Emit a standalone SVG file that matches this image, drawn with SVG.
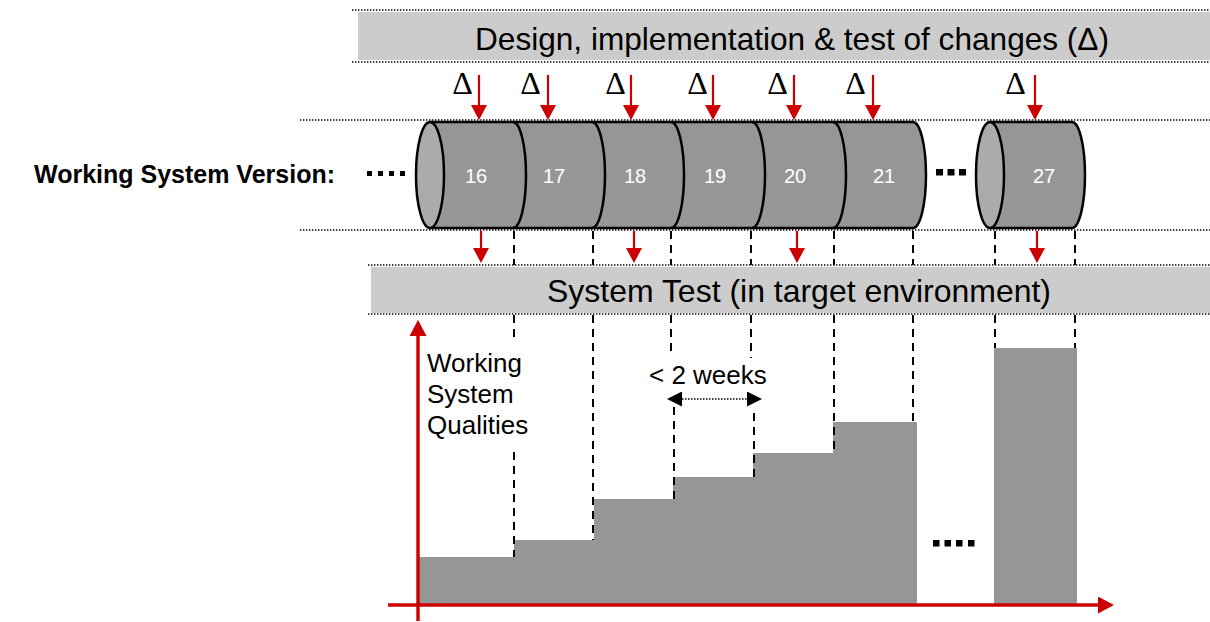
<svg xmlns="http://www.w3.org/2000/svg" width="1210" height="622" viewBox="0 0 1210 622">
  <style>
    .dots { stroke: #000; stroke-width: 1.4; stroke-dasharray: 1.4 1.6; fill: none; }
    .band { fill: #cccccc; }
    .band-text { font-family: "Liberation Sans", Arial, sans-serif; font-size: 32px; fill: #000; }
    .delta { font-family: "Liberation Serif", "Times New Roman", serif; font-size: 32px; fill: #000; text-anchor: middle; }
    .red { stroke: #cc0000; stroke-width: 2.2; fill: none; }
    .axis { stroke: #cc0000; stroke-width: 3.4; fill: none; }
    .dash { stroke: #000; stroke-width: 2; stroke-dasharray: 8 6; fill: none; }
    .body { fill: #969696; stroke: #000; stroke-width: 2.5; stroke-linejoin: round; }
    .cap { fill: #ababab; stroke: #000; stroke-width: 2.5; }
    .seam { fill: none; stroke: #000; stroke-width: 2.5; }
    .num { font-family: "Liberation Sans", Arial, sans-serif; font-size: 20px; fill: #fff; text-anchor: middle; }
    .bar { fill: #969696; }
    .label { font-family: "Liberation Sans", Arial, sans-serif; font-size: 26px; fill: #000; }
    .sq { fill: #000; }
  </style>
  <defs>
    <marker id="redHead" markerUnits="userSpaceOnUse" markerWidth="15" markerHeight="16" refX="0" refY="8" orient="auto">
      <path d="M0,0 L15,8 L0,16 Z" fill="#cc0000"/>
    </marker>
    <marker id="axisHead" markerUnits="userSpaceOnUse" markerWidth="16" markerHeight="17" refX="0" refY="8.5" orient="auto">
      <path d="M0,0 L16,8.5 L0,17 Z" fill="#cc0000"/>
    </marker>
    <marker id="blackHead" markerUnits="userSpaceOnUse" markerWidth="15" markerHeight="15" refX="0" refY="7.5" orient="auto-start-reverse">
      <path d="M0,0 L15,7.5 L0,15 Z" fill="#000"/>
    </marker>
  </defs>

  <!-- top band: design, implementation & test -->
  <g id="design-band">
    <rect class="band" x="358" y="12" width="852" height="48"/>
    <line class="dots" x1="352" y1="10" x2="1210" y2="10"/>
    <line class="dots" x1="352" y1="62" x2="1210" y2="62"/>
    <text class="band-text" x="475" y="50" textLength="634" lengthAdjust="spacingAndGlyphs">Design, implementation &amp; test of changes (Δ)</text>
  </g>

  <!-- change deltas -->
  <g id="deltas">
    <text class="delta" x="462.5" y="94">Δ</text>
    <text class="delta" x="530.5" y="94">Δ</text>
    <text class="delta" x="615.5" y="94">Δ</text>
    <text class="delta" x="697.5" y="94">Δ</text>
    <text class="delta" x="777.5" y="94">Δ</text>
    <text class="delta" x="855.5" y="94">Δ</text>
    <text class="delta" x="1015.5" y="94">Δ</text>
  </g>

  <!-- guide lines around the version row -->
  <g id="guides">
    <line class="dots" x1="300" y1="120" x2="1210" y2="120"/>
    <line class="dots" x1="300" y1="230" x2="1210" y2="230"/>
  </g>

  <!-- label -->
  <g id="version-label">
    <text x="335" y="183" text-anchor="end" font-family="Liberation Sans, Arial, sans-serif" font-size="25" font-weight="bold">Working System Version:</text>
    <rect class="sq" x="367" y="171" width="5" height="5"/>
    <rect class="sq" x="378" y="171" width="5" height="5"/>
    <rect class="sq" x="389" y="171" width="5" height="5"/>
    <rect class="sq" x="400" y="171" width="5" height="5"/>
  </g>

  <!-- versions 16..21 as one segmented cylinder -->
  <g id="cylinder-16-21">
    <path class="body" d="M430,122 H913 A13,53 0 0 1 913,228 H430 Z"/>
    <ellipse class="cap" cx="430" cy="175" rx="14" ry="53"/>
    <path class="seam" d="M513,122 A13,53 0 0 1 513,228"/>
    <path class="seam" d="M592,122 A13,53 0 0 1 592,228"/>
    <path class="seam" d="M671,122 A13,53 0 0 1 671,228"/>
    <path class="seam" d="M752,122 A13,53 0 0 1 752,228"/>
    <path class="seam" d="M833,122 A13,53 0 0 1 833,228"/>
    <text class="num" x="476" y="183">16</text>
    <text class="num" x="554" y="183">17</text>
    <text class="num" x="635" y="183">18</text>
    <text class="num" x="715" y="183">19</text>
    <text class="num" x="795" y="183">20</text>
    <text class="num" x="884" y="183">21</text>
  </g>

  <g id="gap-dots">
    <rect class="sq" x="936" y="169" width="7" height="6.5"/>
    <rect class="sq" x="947.5" y="169" width="7" height="6.5"/>
    <rect class="sq" x="959" y="169" width="7" height="6.5"/>
  </g>

  <!-- version 27 -->
  <g id="cylinder-27">
    <path class="body" d="M990,122 H1072 A13,53 0 0 1 1072,228 H990 Z"/>
    <ellipse class="cap" cx="990" cy="175" rx="14" ry="53"/>
    <text class="num" x="1044" y="183">27</text>
  </g>

  <!-- system test band -->
  <g id="system-test-band">
    <rect class="band" x="371" y="267" width="839" height="46"/>
    <line class="dots" x1="368" y1="265" x2="1210" y2="265"/>
    <line class="dots" x1="368" y1="314" x2="1210" y2="314"/>
    <text class="band-text" x="547" y="302" textLength="504" lengthAdjust="spacingAndGlyphs">System Test (in target environment)</text>
  </g>

  <!-- quality chart -->
  <g id="quality-bars">
    <rect class="bar" x="419" y="557" width="95" height="48"/>
    <rect class="bar" x="514" y="540" width="80" height="65"/>
    <rect class="bar" x="594" y="499" width="79" height="106"/>
    <rect class="bar" x="673" y="477" width="80" height="128"/>
    <rect class="bar" x="753" y="453" width="80" height="152"/>
    <rect class="bar" x="833" y="422" width="84" height="183"/>
    <rect class="bar" x="994" y="348" width="83" height="257"/>
    <rect class="sq" x="933" y="540" width="6.5" height="6.5"/>
    <rect class="sq" x="944.5" y="540" width="6.5" height="6.5"/>
    <rect class="sq" x="956" y="540" width="6.5" height="6.5"/>
    <rect class="sq" x="968" y="540" width="6.5" height="6.5"/>
  </g>

  <g id="quality-label">
    <text class="label" x="427" y="372">Working</text>
    <text class="label" x="427" y="403">System</text>
    <text class="label" x="427" y="434">Qualities</text>
  </g>

  <g id="cycle-label">
    <text class="label" x="649" y="384">&lt; 2 weeks</text>
  </g>

  <!-- connectors -->
  <g id="connectors">
    <!-- changes feeding each version -->
    <line class="red" x1="479" y1="75" x2="479" y2="105" marker-end="url(#redHead)"/>
    <line class="red" x1="548" y1="75" x2="548" y2="105" marker-end="url(#redHead)"/>
    <line class="red" x1="631" y1="75" x2="631" y2="105" marker-end="url(#redHead)"/>
    <line class="red" x1="713" y1="75" x2="713" y2="105" marker-end="url(#redHead)"/>
    <line class="red" x1="794" y1="75" x2="794" y2="105" marker-end="url(#redHead)"/>
    <line class="red" x1="873" y1="75" x2="873" y2="105" marker-end="url(#redHead)"/>
    <line class="red" x1="1035" y1="75" x2="1035" y2="105" marker-end="url(#redHead)"/>

    <!-- versions going to system test -->
    <line class="red" x1="481" y1="231" x2="481" y2="248" marker-end="url(#redHead)"/>
    <line class="red" x1="634" y1="231" x2="634" y2="248" marker-end="url(#redHead)"/>
    <line class="red" x1="797" y1="231" x2="797" y2="248" marker-end="url(#redHead)"/>
    <line class="red" x1="1037" y1="231" x2="1037" y2="248" marker-end="url(#redHead)"/>

    <!-- version boundaries above the test band -->
    <line class="dash" x1="514" y1="231" x2="514" y2="265"/>
    <line class="dash" x1="593" y1="231" x2="593" y2="265"/>
    <line class="dash" x1="671" y1="231" x2="671" y2="265"/>
    <line class="dash" x1="751" y1="231" x2="751" y2="265"/>
    <line class="dash" x1="834" y1="231" x2="834" y2="265"/>
    <line class="dash" x1="913" y1="231" x2="913" y2="265"/>
    <line class="dash" x1="995" y1="231" x2="995" y2="265"/>
    <line class="dash" x1="1075" y1="231" x2="1075" y2="265"/>

    <!-- version boundaries down to the quality steps -->
    <line class="dash" x1="514" y1="315" x2="514" y2="343"/>
    <line class="dash" x1="514" y1="452" x2="514" y2="557"/>
    <line class="dash" x1="593" y1="315" x2="593" y2="540"/>
    <line class="dash" x1="671" y1="315" x2="671" y2="351"/>
    <line class="dash" x1="674" y1="407" x2="674" y2="499"/>
    <line class="dash" x1="751" y1="315" x2="751" y2="358"/>
    <line class="dash" x1="754" y1="413" x2="754" y2="477"/>
    <line class="dash" x1="834" y1="315" x2="834" y2="453"/>
    <line class="dash" x1="913" y1="315" x2="913" y2="422"/>
    <line class="dash" x1="995" y1="315" x2="995" y2="348"/>
    <line class="dash" x1="1075" y1="315" x2="1075" y2="348"/>

    <!-- cycle length -->
    <line x1="682" y1="399" x2="747" y2="399" stroke="#000" stroke-width="1.5" stroke-dasharray="1.5 1.5" marker-start="url(#blackHead)" marker-end="url(#blackHead)"/>

    <!-- axes -->
    <line class="axis" x1="418" y1="621" x2="418" y2="336" marker-end="url(#axisHead)"/>
    <line class="axis" x1="388" y1="605" x2="1098" y2="605" marker-end="url(#axisHead)"/>
  </g>
</svg>
